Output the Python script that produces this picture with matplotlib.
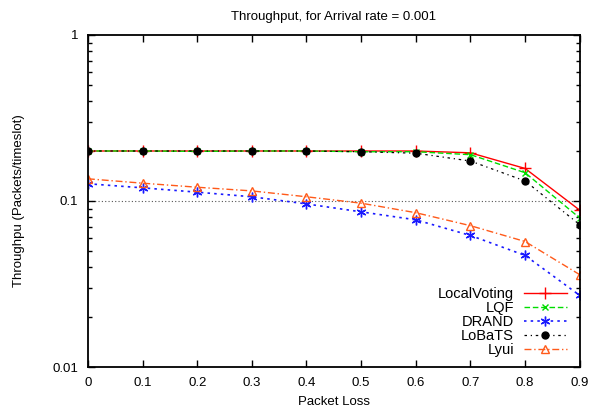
import matplotlib.pyplot as plt
from matplotlib.ticker import FixedLocator, LogLocator, NullFormatter

plt.rcParams['font.family'] = ['Liberation Sans', 'DejaVu Sans']
plt.rcParams['font.size'] = 9.5

# Packet loss values (x axis)
loss = [0, 0.1, 0.2, 0.3, 0.4, 0.5, 0.6, 0.7, 0.8, 0.9]

# Throughput per scheme
local_voting = [0.2, 0.2, 0.2, 0.2, 0.2, 0.2, 0.2, 0.195, 0.157, 0.088]
lqf = [0.2, 0.2, 0.199, 0.2, 0.2, 0.198, 0.198, 0.19, 0.148, 0.079]
drand = [0.127, 0.12, 0.113, 0.106, 0.096, 0.086, 0.077, 0.062, 0.047, 0.027]
lobats = [0.2, 0.2, 0.2, 0.2, 0.2, 0.198, 0.194, 0.174, 0.132, 0.072]
lyui = [0.136, 0.128, 0.121, 0.115, 0.106, 0.097, 0.085, 0.071, 0.057, 0.036]

fig = plt.figure(figsize=(6.02, 4.11), dpi=100)
ax = fig.add_axes([0.146, 0.107, 0.817, 0.808])

ax.axhline(0.1, color='#555555', linestyle=(0, (1, 2)), linewidth=0.8, zorder=1)

ax.plot(loss, local_voting, color='#ff0000', linestyle='-', marker='+', markersize=8,
        linewidth=1, label='LocalVoting')
ax.plot(loss, lqf, color='#00dd00', linestyle=(0, (4, 2)), marker='x', markersize=5,
        linewidth=1, label='LQF')
ax.plot(loss, drand, color='#1a1aff', linestyle=(0, (1.5, 2.5)), marker=(6, 2, 0), markersize=7,
        linewidth=1.2, label='DRAND')
ax.plot(loss, lobats, color='black', linestyle=(0, (2, 3, 1, 3)), marker='o', markersize=5,
        linewidth=0.9, label='LoBaTS')
ax.plot(loss, lyui, color='#ff5a1a', linestyle=(0, (5, 2, 1, 2)), marker='^', markersize=6,
        markerfacecolor='none', linewidth=1, label='Lyui')

ax.set_yscale('log')
ax.set_xlim(0, 0.9)
ax.set_ylim(0.01, 1)
ax.xaxis.set_major_locator(FixedLocator(loss))
ax.set_xticklabels(['0', '0.1', '0.2', '0.3', '0.4', '0.5', '0.6', '0.7', '0.8', '0.9'])
ax.yaxis.set_major_locator(FixedLocator([0.01, 0.1, 1]))
ax.set_yticklabels(['0.01', '0.1', '1'])
ax.yaxis.set_minor_locator(LogLocator(base=10, subs=range(2, 10)))
ax.yaxis.set_minor_formatter(NullFormatter())

ax.tick_params(which='both', direction='in', top=True, right=True, width=1)
ax.tick_params(which='major', length=5, pad=7)
ax.tick_params(which='minor', length=3)
for s in ax.spines.values():
    s.set_linewidth(1.3)

ax.set_title('Throughput, for Arrival rate = 0.001', fontsize=9.5, pad=11)
ax.set_xlabel('Packet Loss', labelpad=5)
ax.set_ylabel('Throughpu (Packets/timeslot)', labelpad=20)

ax.legend(loc='lower right', frameon=False, markerfirst=False, alignment='right',
          handlelength=2.9, handletextpad=0.7, labelspacing=0.0, borderaxespad=0.0,
          fontsize=10.5, bbox_to_anchor=(0.985, 0.012))

fig.savefig('out.png', dpi=100)
